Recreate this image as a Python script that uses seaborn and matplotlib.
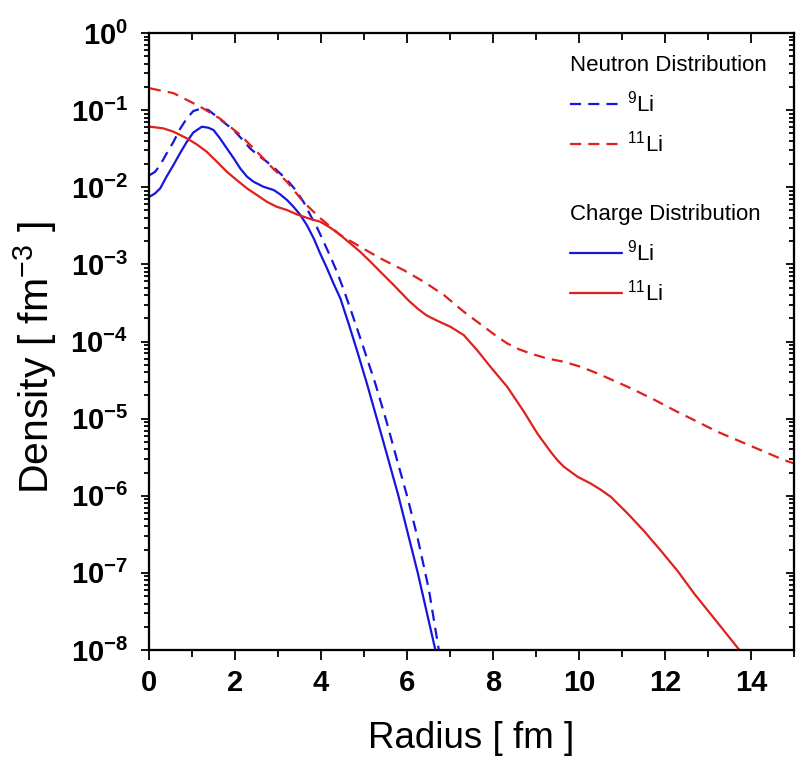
import matplotlib
matplotlib.use('Agg')
import matplotlib.pyplot as plt
import matplotlib.ticker as mticker
from matplotlib.lines import Line2D
import seaborn as sns
import numpy as np

# radius [fm] and log10(density [fm^-3])
r_charge_9 = [0.02, 0.14, 0.26, 0.41, 0.57, 0.72, 0.88, 1.03, 1.23, 1.38, 1.50, 1.65,
              1.81, 1.97, 2.12, 2.28, 2.43, 2.66, 2.90, 3.05, 3.21, 3.36, 3.52, 3.67,
              3.83, 3.98, 4.14, 4.29, 4.45, 4.64, 4.85, 5.07, 5.40, 5.80, 6.25, 6.66]
lg_charge_9 = [-2.12, -2.08, -2.015, -1.86, -1.71, -1.56, -1.41, -1.29, -1.215, -1.228, -1.258, -1.366,
               -1.496, -1.625, -1.755, -1.863, -1.928, -1.993, -2.036, -2.092, -2.166, -2.253, -2.36, -2.49,
               -2.663, -2.858, -3.052, -3.247, -3.441, -3.765, -4.14, -4.55, -5.20, -6.00, -7.00, -8.0]

r_neutron_9 = [0.02, 0.14, 0.26, 0.41, 0.57, 0.72, 0.88, 1.03, 1.23, 1.38, 1.58, 1.77,
               1.97, 2.16, 2.35, 2.55, 2.74, 2.94, 3.13, 3.28, 3.44, 3.60, 3.75, 3.91,
               4.06, 4.22, 4.37, 4.53, 4.68, 4.97, 5.26, 5.52, 5.77, 6.01, 6.24, 6.51, 6.74]
lg_neutron_9 = [-1.842, -1.80, -1.712, -1.561, -1.41, -1.245, -1.107, -1.012, -0.977, -0.999, -1.085, -1.172,
                -1.258, -1.375, -1.496, -1.591, -1.669, -1.764, -1.863, -1.95, -2.058, -2.196, -2.36, -2.525,
                -2.706, -2.901, -3.096, -3.333, -3.571, -4.05, -4.54, -5.03, -5.54, -6.02, -6.53, -7.22, -8.0]

r_charge_11 = [0.02, 0.33, 0.57, 0.88, 1.11, 1.34, 1.58, 1.81, 2.04, 2.28, 2.51, 2.74,
               2.97, 3.21, 3.44, 3.71, 3.98, 4.22, 4.45, 4.68, 4.91, 5.15, 5.38, 5.69,
               6.04, 6.25, 6.45, 6.70, 7.01, 7.32, 7.63, 7.94, 8.33, 8.72, 9.03, 9.34, 9.50, 9.65,
               9.97, 10.27, 10.50, 10.74, 11.13, 11.50, 11.90, 12.30, 12.68, 13.20, 13.73]
lg_charge_11 = [-1.215, -1.236, -1.28, -1.366, -1.444, -1.539, -1.669, -1.799, -1.907, -2.015, -2.101, -2.188,
                -2.253, -2.296, -2.352, -2.404, -2.447, -2.525, -2.62, -2.728, -2.836, -2.966, -3.096, -3.268,
                -3.47, -3.575, -3.66, -3.73, -3.809, -3.917, -4.112, -4.328, -4.587, -4.911, -5.192, -5.43, -5.54, -5.625,
                -5.755, -5.841, -5.92, -6.014, -6.23, -6.45, -6.71, -6.98, -7.27, -7.63, -8.0]

r_neutron_11 = [0.02, 0.57, 1.19, 1.65, 2.12, 2.51, 2.89, 3.21, 3.59, 3.98, 4.45, 4.91,
                5.38, 5.92, 6.39, 6.86, 7.32, 7.79, 8.08, 8.33, 8.60, 8.87, 9.26, 9.65, 10.04, 10.43,
                11.13, 11.70, 12.21, 13.22, 14.78, 15.0]
lg_neutron_11 = [-0.717, -0.78, -0.955, -1.11, -1.32, -1.54, -1.76, -1.93, -2.19, -2.40, -2.62, -2.771,
                 -2.922, -3.074, -3.225, -3.398, -3.614, -3.809, -3.93, -4.025, -4.10, -4.155, -4.22, -4.263, -4.328, -4.414,
                 -4.587, -4.74, -4.89, -5.17, -5.54, -5.58]

x_ticks = [0, 2, 4, 6, 8, 10, 12, 14]
blue = '#1616dc'
red = '#e0201c'

sns.set_theme(style='ticks')
plt.rcParams['font.family'] = ['Liberation Sans', 'DejaVu Sans']
plt.rcParams['mathtext.fontset'] = 'custom'
plt.rcParams['mathtext.rm'] = 'Liberation Sans'
plt.rcParams['mathtext.bf'] = 'Liberation Sans:bold'
plt.rcParams['text.color'] = 'black'
plt.rcParams['axes.labelcolor'] = 'black'
plt.rcParams['xtick.color'] = 'black'
plt.rcParams['ytick.color'] = 'black'

fig = plt.figure(figsize=(7.96, 7.64), dpi=100)
ax = fig.add_axes([0.1872, 0.1492, 0.8103, 0.8076])

dash = (0, (5, 3.2))
lw = 1.6
sns.lineplot(x=r_neutron_9, y=10 ** np.array(lg_neutron_9), ax=ax, color=blue, lw=lw, linestyle=dash)
sns.lineplot(x=r_neutron_11, y=10 ** np.array(lg_neutron_11), ax=ax, color=red, lw=lw, linestyle=dash)
sns.lineplot(x=r_charge_9, y=10 ** np.array(lg_charge_9), ax=ax, color=blue, lw=lw)
sns.lineplot(x=r_charge_11, y=10 ** np.array(lg_charge_11), ax=ax, color=red, lw=lw)

ax.set_yscale('log')
ax.set_xlim(0, 15)
ax.set_ylim(1e-8, 1)

def dec_fmt(v, pos):
    return r'$\mathbf{10^{%d}}$' % int(round(np.log10(v)))

ax.xaxis.set_major_locator(mticker.FixedLocator(x_ticks))
ax.xaxis.set_minor_locator(mticker.MultipleLocator(1))
ax.yaxis.set_major_locator(mticker.LogLocator(base=10, numticks=20))
ax.yaxis.set_minor_locator(mticker.LogLocator(base=10, subs=np.arange(2, 10), numticks=20))
ax.yaxis.set_major_formatter(mticker.FuncFormatter(dec_fmt))
ax.yaxis.set_minor_formatter(mticker.NullFormatter())
ax.set_xticklabels([str(t) for t in x_ticks], fontweight='bold', fontsize=21)
ax.tick_params(axis='y', labelsize=21)
ax.tick_params(which='both', direction='out', width=1.3)
ax.tick_params(axis='x', which='major', length=7, pad=7)
ax.tick_params(axis='x', which='minor', length=5)
ax.tick_params(axis='y', which='major', length=6, pad=9)
ax.tick_params(axis='y', which='minor', length=3.5)
for s in ax.spines.values():
    s.set_linewidth(1.5)
    s.set_color('black')

# mirrored ticks on top / right pointing inwards
axt = ax.twiny()
axt.set_xlim(ax.get_xlim())
axt.xaxis.set_major_locator(mticker.FixedLocator(x_ticks))
axt.xaxis.set_minor_locator(mticker.MultipleLocator(1))
axt.tick_params(which='both', direction='in', labeltop=False, width=1.3)
axt.tick_params(which='major', length=7)
axt.tick_params(which='minor', length=5)
axr = ax.twinx()
axr.set_yscale('log')
axr.set_ylim(ax.get_ylim())
axr.yaxis.set_major_locator(mticker.LogLocator(base=10, numticks=20))
axr.yaxis.set_minor_locator(mticker.LogLocator(base=10, subs=np.arange(2, 10), numticks=20))
axr.tick_params(which='both', direction='in', labelright=False, width=1.3)
axr.tick_params(which='major', length=6)
axr.tick_params(which='minor', length=3.5)
for a in (axt, axr):
    for s in a.spines.values():
        s.set_linewidth(1.5)
        s.set_color('black')

ax.set_xlabel('Radius [ fm ]', fontsize=26.5)
ax.set_ylabel(r'Density [ fm$^{-3}$ ]', fontsize=29.5)
ax.xaxis.set_label_coords(0.5, -0.115)
ax.yaxis.set_label_coords(-0.14, 0.474)

leg_kw = dict(loc='upper left', frameon=False, fontsize=16, title_fontsize=16,
              handlelength=2.35, handletextpad=0.22, labelspacing=0.65,
              borderaxespad=0, borderpad=0, alignment='left')
h_n = [Line2D([], [], color=blue, lw=lw, linestyle=dash),
       Line2D([], [], color=red, lw=lw, linestyle=dash)]
h_c = [Line2D([], [], color=blue, lw=lw),
       Line2D([], [], color=red, lw=lw)]
labels = [r'$^{9}$Li', r'$^{11}$Li']
leg1 = axr.legend(h_n, labels, title='Neutron Distribution',
                  bbox_to_anchor=(0.653, 0.964), **leg_kw)
axr.add_artist(leg1)
axr.legend(h_c, labels, title='Charge Distribution',
           bbox_to_anchor=(0.653, 0.7225), **leg_kw)

fig.savefig('out.png', dpi=100)
